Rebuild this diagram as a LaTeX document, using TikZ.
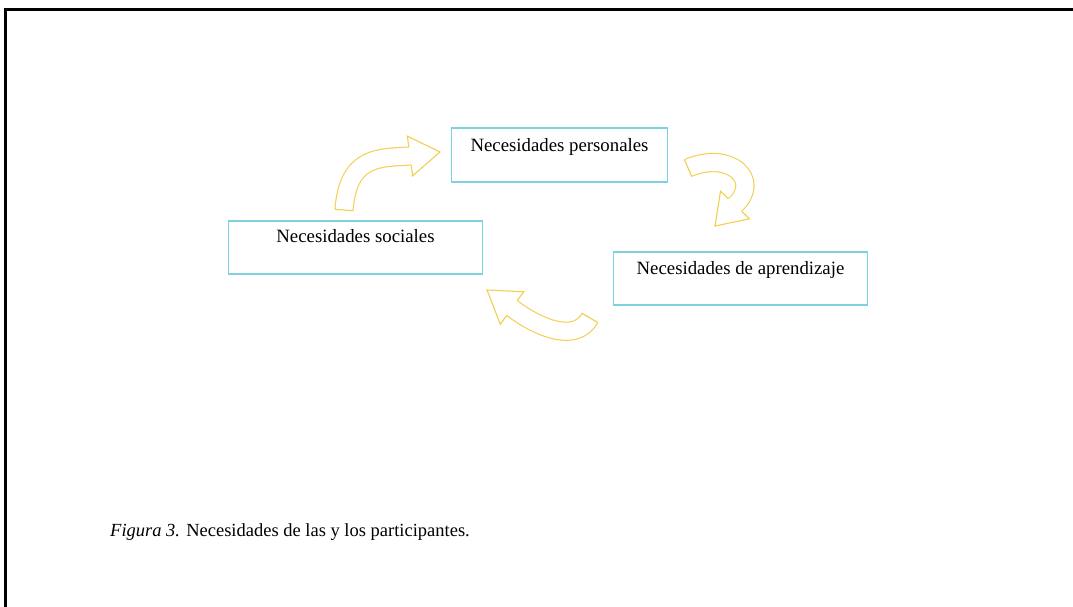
\documentclass[tikz,border=0pt]{standalone}
\usepackage{fontspec}
\setmainfont{Liberation Serif}
\usetikzlibrary{calc}
\definecolor{boxcol}{HTML}{7CD2DF}
\definecolor{arrcol}{HTML}{F2CF4E}
\tikzset{
  boxn/.style={draw=boxcol, line width=1.4pt, inner sep=0pt},
  boxtext/.style={font=\fontsize{18.8}{22}\selectfont},
  arrline/.style={draw=arrcol, line width=1.1pt, line join=miter},
}
% S, C1, C2, E, T (named coordinates)
\newcommand\blockarrow[5]{%
  \draw[arrcol, line width=1.1pt, double=white, double distance=17pt]
    (#1) .. controls (#2) and (#3) .. (#4);
  \draw[arrline] ($(#1)!9.05pt!90:(#2)$) -- ($(#1)!9.05pt!-90:(#2)$);
  \filldraw[arrline, fill=white]
    ($(#4)!9.05pt!90:(#5)$) -- ($(#4)!20pt!90:(#5)$) -- (#5)
    -- ($(#4)!20pt!-90:(#5)$) -- ($(#4)!9.05pt!-90:(#5)$);
}
\begin{document}
\begin{tikzpicture}[x=1pt,y=-1pt]
\useasboundingbox (0,0) rectangle (1073,607);
\fill[white] (0,0) rectangle (1073,607);
% page border
\draw[line width=3pt] (5.5,607) -- (5.5,9.5) -- (1073,9.5);

% boxes
\node[boxn, minimum width=216pt, minimum height=54pt,
  label={[boxtext, anchor=base, inner sep=0pt, yshift=-24pt]north:Necesidades personales}]
  (per) at (559.5,155) {};
\node[boxn, minimum width=254pt, minimum height=53pt,
  label={[boxtext, anchor=base, inner sep=0pt, yshift=-22pt]north:Necesidades sociales}]
  (soc) at (355.5,247.5) {};
\node[boxn, minimum width=254pt, minimum height=53pt,
  label={[boxtext, anchor=base, inner sep=0pt, yshift=-23pt]north:Necesidades de aprendizaje}]
  (apr) at (740.5,278.5) {};

% arrow 1: sociales -> personales
\coordinate (a1s) at (344,210);
\coordinate (a1c) at (348,155);
\coordinate (a1d) at (380,158);
\coordinate (a1e) at (410,156);
\coordinate (a1t) at (440,152);
\blockarrow{a1s}{a1c}{a1d}{a1e}{a1t}

% arrow 2: personales -> aprendizaje
\coordinate (a2s) at (688,168);
\coordinate (a2c) at (730,150);
\coordinate (a2d) at (762,180);
\coordinate (a2e) at (735,205);
\coordinate (a2t) at (715,226);
\blockarrow{a2s}{a2c}{a2d}{a2e}{a2t}

% arrow 3: aprendizaje -> sociales
\coordinate (a3s) at (590,318);
\coordinate (a3c) at (575,344);
\coordinate (a3d) at (537,327);
\coordinate (a3e) at (512,308);
\coordinate (a3t) at (487,290);
\blockarrow{a3s}{a3c}{a3d}{a3e}{a3t}

% caption
\node[anchor=base west, inner sep=0pt, font=\fontsize{18.5}{22}\selectfont]
  (cap) at (110,536) {\textit{Figura 3.} Necesidades de las y los participantes.};
\end{tikzpicture}
\end{document}
